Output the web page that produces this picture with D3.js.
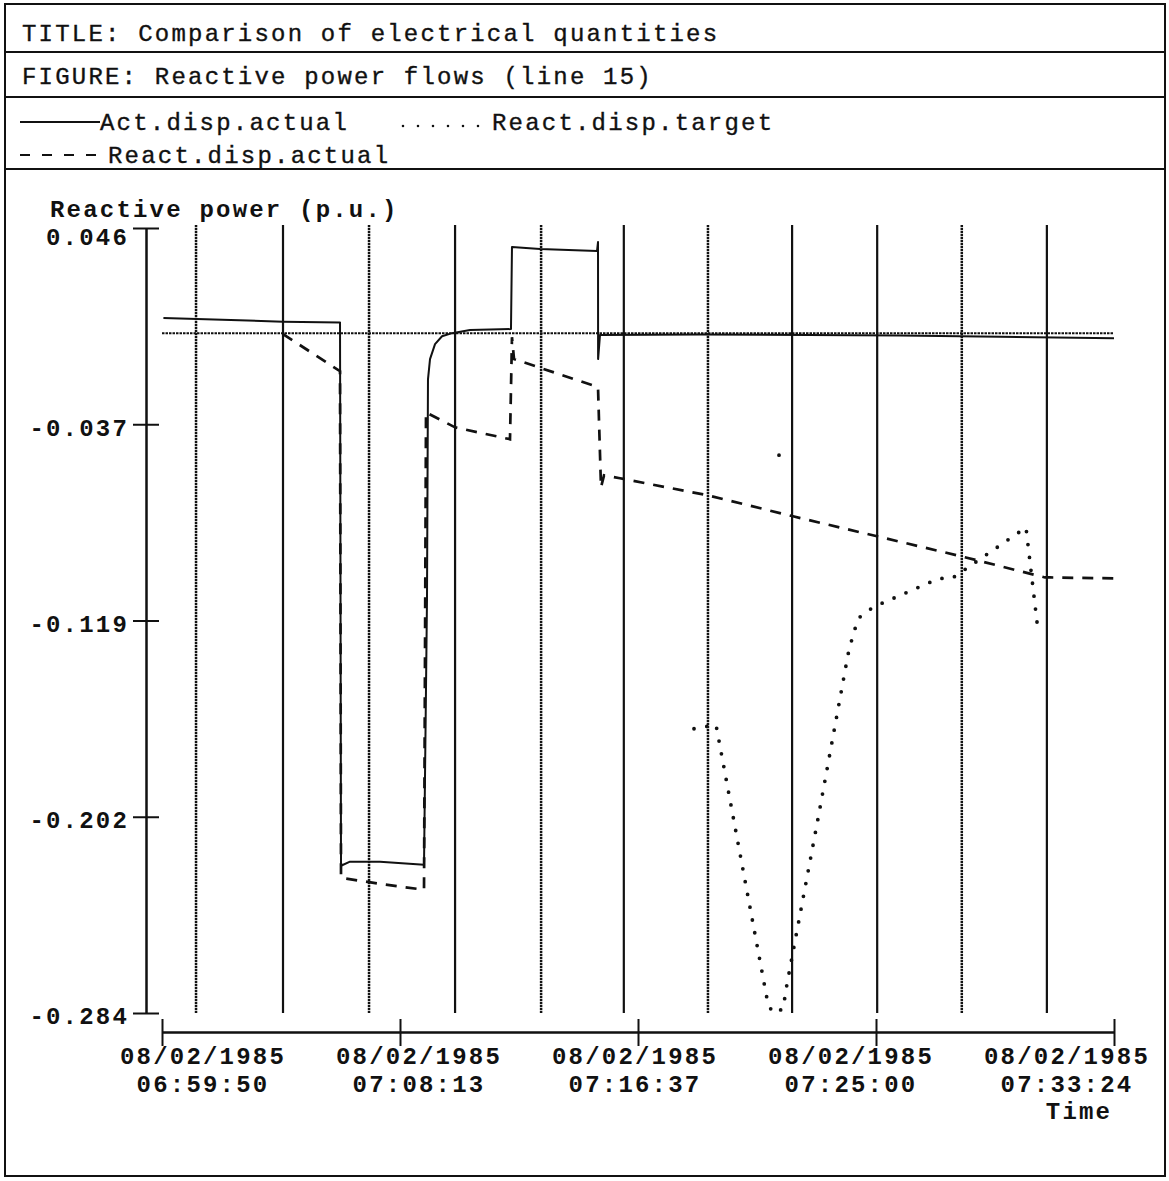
<!DOCTYPE html>
<html><head><meta charset="utf-8">
<script src="https://cdn.jsdelivr.net/npm/d3@7"></script>
<style>
html,body{margin:0;padding:0;background:#fff;}
svg{display:block;}
text{font-family:"Liberation Mono","DejaVu Sans Mono",monospace;fill:#111;}
</style></head><body>
<svg id="chart" width="1169" height="1181"></svg>
<script>
// ---------- data ----------
const titleText = "TITLE: Comparison of electrical quantities";
const figureText = "FIGURE: Reactive power flows (line 15)";
const seriesNames = ["Act.disp.actual", "React.disp.target", "React.disp.actual"];
const yAxisTitle = "Reactive power (p.u.)";
const xAxisTitle = "Time";

// time in seconds after 08/02/1985 06:59:50
const xTickValues = [0, 503.5, 1007, 1510.5, 2014];
const xTickDates = ["08/02/1985", "08/02/1985", "08/02/1985", "08/02/1985", "08/02/1985"];
const xTickTimes = ["06:59:50", "07:08:13", "07:16:37", "07:25:00", "07:33:24"];
const yTickValues = [0.046, -0.0365, -0.119, -0.2015, -0.284];
const yTickLabels = ["0.046", "-0.037", "-0.119", "-0.202", "-0.284"];

// Act.disp.actual (solid)
const actTime  = [3, 256, 376.6, 378.7, 397.7, 461.2, 554.3, 560.6, 562.7, 567, 577.6, 592.4, 613.5, 651.6, 738.3, 740.4, 799.7, 920.3, 922.4, 922.6, 926.6, 1138.2, 1561.3, 1772.8, 2014];
const actValue = [0.0082, 0.0066, 0.0063, -0.2221, -0.2204, -0.2204, -0.2217, -0.1102, -0.0176, -0.0091, -0.0028, 0.0005, 0.0018, 0.0031, 0.0035, 0.0380, 0.0372, 0.0363, 0.0401, -0.0091, 0.0010, 0.0012, 0.0008, 0.0003, -0.0003];

// React.disp.actual (dashed)
const reactTime  = [256, 376.6, 378.7, 461.2, 554.3, 558.5, 619.9, 736.2, 740.4, 744.7, 922.4, 928.7, 935.1, 968.9, 1155.1, 1334.9, 1512.6, 1692.4, 1868, 1878.6, 2014];
const reactValue = [0.0014, -0.0142, -0.2272, -0.2297, -0.2322, -0.0315, -0.0378, -0.0428, 0.0001, -0.0091, -0.0209, -0.0630, -0.0580, -0.0592, -0.0664, -0.0752, -0.0836, -0.0921, -0.1009, -0.1009, -0.1013];

// React.disp.target (dotted); null = gap
const targetTime  = [1305.3, 1309.6, 1310, 1125.5, 1172.0, 1282.0, 1292.6, 1313.8, 1322.2, 1387.8, 1451.3, 1457.6, 1472.4, 1493.6, 1516.8, 1643.8, 1671.3, 1827.8, 1853.2];
const targetValue = [-0.0495, -0.0470, null, -0.1645, -0.1628, -0.2802, -0.2840, -0.2823, -0.2718, -0.2023, -0.1333, -0.1283, -0.1182, -0.1148, -0.1123, -0.1013, -0.1013, -0.0799, -0.1232];

// constant reference level drawn across the whole plot
const referenceLevel = [0.0018];

// switching events (vertical markers)
const eventTime = [72, 256, 438, 620, 802, 977, 1155, 1333, 1513, 1692, 1872];
const eventKind = ["target", "actual", "target", "actual", "target", "actual", "target", "actual", "actual", "target", "actual"];

// ---------- drawing ----------
const svg = d3.select("#chart");
const FONT = 24, LS = 2.2;
const x = d3.scaleLinear().domain([0, 2014]).range([162, 1114]);
const y = d3.scaleLinear().domain([-0.284, 0.046]).range([1013, 228]);
const xLab = d3.scaleLinear().domain([0, 2014]).range([203, 1067]);

function txt(g, tx, ty, s, bold) {
  return g.append("text").attr("x", tx).attr("y", ty).attr("dy", "0.36em")
    .style("font-size", FONT + "px").style("letter-spacing", LS + "px")
    .style("font-weight", bold ? "bold" : "normal").text(s);
}

// frame & header
const frame = svg.append("g").attr("stroke", "#111").attr("stroke-width", 2).attr("fill", "none");
frame.append("rect").attr("x", 5).attr("y", 4).attr("width", 1160).attr("height", 1172);
[52, 97, 169].forEach(yy => frame.append("line").attr("x1", 5).attr("x2", 1165).attr("y1", yy).attr("y2", yy));

txt(svg, 22, 32, titleText).style("stroke", "#111").style("stroke-width", 0.35);
txt(svg, 22, 75, figureText).style("stroke", "#111").style("stroke-width", 0.35);

// legend
const styles = {
  solid: {w: 2, dash: null, cap: "butt"},
  dotted: {w: 3.8, dash: "0,13", cap: "round"},
  dashed: {w: 2.7, dash: "11,9", cap: "butt"}
};
function applyStyle(sel, st) {
  sel.attr("stroke", "#111").attr("stroke-width", st.w).attr("fill", "none").attr("stroke-linecap", st.cap);
  if (st.dash) sel.attr("stroke-dasharray", st.dash);
  return sel;
}
const legend = svg.append("g");
applyStyle(legend.append("line").attr("x1", 20).attr("x2", 100).attr("y1", 122).attr("y2", 122), styles.solid);
txt(legend, 100, 121, seriesNames[0]).style("stroke", "#111").style("stroke-width", 0.35);
applyStyle(legend.append("line").attr("x1", 403).attr("x2", 490).attr("y1", 126).attr("y2", 126), Object.assign({}, styles.dotted, {w: 2.6, dash: "0,15"}));
txt(legend, 492, 121, seriesNames[1]).style("stroke", "#111").style("stroke-width", 0.35);
applyStyle(legend.append("line").attr("x1", 20).attr("x2", 106).attr("y1", 155).attr("y2", 155), Object.assign({}, styles.dashed, {w: 2, dash: "10,12"}));
txt(legend, 108, 154, seriesNames[2]).style("stroke", "#111").style("stroke-width", 0.35);

// event lines
const evs = svg.append("g");
eventTime.forEach((t, i) => {
  const l = evs.append("line").attr("x1", x(t)).attr("x2", x(t)).attr("y1", y(0.046) - 3).attr("y2", y(-0.284))
    .attr("stroke", "#111").attr("fill", "none");
  if (eventKind[i] === "actual") l.attr("stroke-width", 2.2);
  else l.attr("stroke-width", 2.5).attr("stroke-dasharray", "2.2,0.8");
});

// reference level
svg.append("line").attr("x1", x(0)).attr("x2", x(2014)).attr("y1", y(referenceLevel[0])).attr("y2", y(referenceLevel[0]))
  .attr("stroke", "#111").attr("stroke-width", 2).attr("stroke-dasharray", "2.5,1");

// series
const mk = (T, V) => T.map((t, i) => ({t: t, v: V[i]}));
const line = d3.line().defined(d => d.v !== null).x(d => x(d.t)).y(d => y(d.v));
applyStyle(svg.append("path").attr("d", line(mk(targetTime, targetValue))), styles.dotted);
applyStyle(svg.append("path").attr("d", line(mk(reactTime, reactValue))), styles.dashed);
applyStyle(svg.append("path").attr("d", line(mk(actTime, actValue))), styles.solid).attr("stroke-linejoin", "round");

// y axis (crossing ticks)
const yAxisG = svg.append("g").attr("transform", "translate(146,0)")
  .call(d3.axisLeft(y).tickValues(yTickValues).tickSize(13).tickSizeOuter(0).tickPadding(4)
    .tickFormat((d, i) => yTickLabels[i]));
svg.append("g").attr("transform", "translate(146,0)")
  .call(d3.axisRight(y).tickValues(yTickValues).tickSize(13).tickSizeOuter(0).tickFormat(""));
yAxisG.selectAll("text").style("font-family", '"Liberation Mono", monospace').style("font-size", FONT + "px")
  .style("letter-spacing", LS + "px").style("font-weight", "bold").attr("fill", "#111").attr("dy", "0.45em");
yAxisG.selectAll(".tick").filter((d, i) => i === 0).select("text").attr("dy", "0.7em");

txt(svg, 50, 208, yAxisTitle, true);

// x axis (crossing ticks)
svg.append("g").attr("transform", "translate(0,1032)")
  .call(d3.axisBottom(x).tickValues(xTickValues).tickSize(14).tickSizeOuter(0).tickFormat(""));
svg.append("g").attr("transform", "translate(0,1032)")
  .call(d3.axisTop(x).tickValues(xTickValues).tickSize(13).tickSizeOuter(0).tickFormat(""));
svg.selectAll(".domain, .tick line").attr("stroke", "#111").attr("stroke-width", 2);

const xl = svg.append("g").attr("text-anchor", "middle");
xTickValues.forEach((t, i) => {
  txt(xl, xLab(t), 1055, xTickDates[i], true);
  txt(xl, xLab(t), 1083, xTickTimes[i], true);
});
txt(xl, 1079, 1110, xAxisTitle, true);
</script>
</body></html>
